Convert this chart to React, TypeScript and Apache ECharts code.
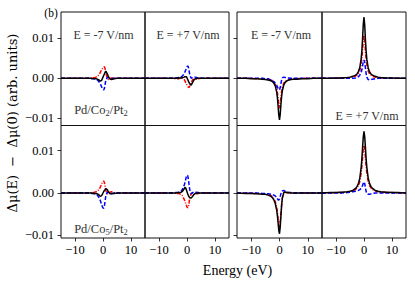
import React, { useEffect, useRef } from "react";
import * as echarts from "echarts";

// Energy grid (eV)
const energy = [-15, -12, -10, -8, -6, -5, -4, -3, -2.5, -2, -1.5, -1, -0.75, -0.5, -0.25, 0, 0.25, 0.5, 0.75, 1, 1.5, 2, 2.5, 3, 4, 5, 6, 8, 10, 12, 15];

// Row 1: Pd/Co2/Pt2 — column 1 (E = -7 V/nm)
const co2ARed = [0, 0, 0, 0, 0, 0, 0.0001, 0.0002, 0.0003, 0.0005, 0.0009, 0.0014, 0.0018, 0.0022, 0.0024, 0.0026, 0.0028, 0.0029, 0.0024, 0.0014, 0.0001, -0.0003, -0.0001, 0.0001, 0.0001, 0, 0, 0, 0, 0, 0];
const co2ABlue = [0, 0, 0, 0, 0, 0, -0.0001, -0.0001, -0.0002, -0.0004, -0.0008, -0.0013, -0.0017, -0.0021, -0.0025, -0.0028, -0.0029, -0.0025, -0.0015, -0.0005, 0.0002, 0.0003, 0.0001, -0.0001, 0, 0, 0, 0, 0, 0, 0];
const co2ABlack = [0, 0, 0, 0, 0, 0, 0, -0.0001, -0.0001, -0.0002, -0.0004, -0.0007, -0.0007, -0.0005, -0.0001, 0.0003, 0.0007, 0.0011, 0.0015, 0.0018, 0.0012, 0.0003, -0.0002, -0.0003, -0.0001, 0, 0, 0, 0, 0, 0];
// column 2 (E = +7 V/nm)
const co2BRed = [0, 0, 0, 0, 0, 0, -0.0001, -0.0001, 0.0001, 0.0002, 0.0001, -0.0003, -0.0006, -0.001, -0.0014, -0.0017, -0.002, -0.0022, -0.0023, -0.0019, -0.001, -0.0004, -0.0002, -0.0002, -0.0001, 0, 0, 0, 0, 0, 0];
const co2BBlue = [0, 0, 0, 0, 0, 0, 0.0001, 0.0002, 0.0002, 0.0004, 0.0007, 0.0012, 0.0016, 0.002, 0.0025, 0.0029, 0.0031, 0.0028, 0.0019, 0.0009, 0, 0.0002, 0.0004, 0.0003, 0.0001, 0, 0, 0, 0, 0, 0];
const co2BBlack = [0, 0, 0, 0, 0, 0, 0, 0.0001, 0.0001, 0.0001, 0.0002, 0.0003, 0.0004, 0.0004, 0.0004, 0.0001, -0.0003, -0.0007, -0.0011, -0.0014, -0.0017, -0.001, -0.0004, -0.0001, 0, 0, 0, 0, 0, 0, 0];
// column 3 (E = -7 V/nm)
const co2CRed = [0, 0, 0, -0.0001, -0.0001, -0.0002, -0.0003, -0.0004, -0.0006, -0.0009, -0.0014, -0.0025, -0.0035, -0.005, -0.0066, -0.0075, -0.0064, -0.0047, -0.0032, -0.0022, -0.0012, -0.0007, -0.0005, -0.0003, -0.0002, -0.0001, -0.0001, 0, 0, 0, 0];
const co2CBlue = [0, 0, 0, 0, 0, -0.0001, -0.0001, -0.0004, -0.0006, -0.0008, -0.0012, -0.0017, -0.0021, -0.0025, -0.0028, -0.0029, -0.0023, -0.0013, -0.0004, 0.0001, 0.0003, 0.0002, 0.0001, 0.0001, 0, 0, 0, 0, 0, 0, 0];
const co2CBlack = [0, 0, -0.0001, -0.0001, -0.0002, -0.0003, -0.0004, -0.0006, -0.0008, -0.0012, -0.0019, -0.0034, -0.0048, -0.0069, -0.0092, -0.0104, -0.009, -0.0066, -0.0045, -0.0031, -0.0017, -0.001, -0.0007, -0.0005, -0.0003, -0.0002, -0.0002, -0.0001, -0.0001, 0, 0];
// column 4 (E = +7 V/nm)
const co2DRed = [0, 0, 0, 0.0001, 0.0001, 0.0002, 0.0003, 0.0006, 0.0008, 0.0012, 0.0019, 0.0036, 0.005, 0.0071, 0.0096, 0.0108, 0.0094, 0.0069, 0.0048, 0.0034, 0.0018, 0.0011, 0.0008, 0.0005, 0.0003, 0.0002, 0.0001, 0.0001, 0, 0, 0];
const co2DBlue = [0, 0, 0, 0, 0, 0, 0, 0.0001, 0.0002, 0.0004, 0.0008, 0.0015, 0.0022, 0.0032, 0.0042, 0.0046, 0.004, 0.0026, 0.0012, 0.0003, -0.0003, -0.0004, -0.0003, -0.0002, -0.0001, 0, 0, 0, 0, 0, 0];
const co2DBlack = [0, 0, 0.0001, 0.0001, 0.0002, 0.0003, 0.0005, 0.0008, 0.0011, 0.0017, 0.0027, 0.005, 0.0071, 0.0101, 0.0136, 0.0153, 0.0134, 0.0098, 0.0069, 0.0048, 0.0026, 0.0016, 0.0011, 0.0008, 0.0005, 0.0003, 0.0002, 0.0001, 0.0001, 0, 0];

// Row 2: Pd/Co5/Pt2
const co5ARed = [0, 0, 0, 0, 0, 0, 0.0001, 0.0002, 0.0003, 0.0004, 0.0008, 0.0013, 0.0017, 0.0021, 0.0025, 0.0027, 0.0028, 0.0025, 0.0016, 0.0006, -0.0002, -0.0001, 0.0002, 0.0003, 0.0001, 0, 0, 0, 0, 0, 0];
const co5ABlue = [0, 0, 0, 0, 0, 0, -0.0001, -0.0002, -0.0003, -0.0005, -0.001, -0.0017, -0.0022, -0.0027, -0.0032, -0.0035, -0.0036, -0.0031, -0.0019, -0.0007, 0.0002, 0.0002, 0, -0.0001, 0, 0, 0, 0, 0, 0, 0];
const co5ABlack = [0, 0, 0, 0, 0, 0, 0, -0.0001, -0.0001, -0.0002, -0.0004, -0.0008, -0.0008, -0.0006, -0.0003, 0, 0.0003, 0.0006, 0.0008, 0.001, 0.0008, 0.0002, -0.0002, -0.0002, -0.0001, 0, 0, 0, 0, 0, 0];
const co5BRed = [0, 0, 0, 0, 0, 0, -0.0001, -0.0001, -0.0002, -0.0004, -0.0008, -0.0015, -0.0019, -0.0024, -0.0029, -0.0033, -0.0035, -0.0032, -0.0022, -0.0011, -0.0001, 0, -0.0002, -0.0003, -0.0001, 0, 0, 0, 0, 0, 0];
const co5BBlue = [0, 0, 0, 0, 0, 0, 0.0001, 0.0002, 0.0003, 0.0005, 0.001, 0.0018, 0.0024, 0.0031, 0.0038, 0.0042, 0.0041, 0.0032, 0.0019, 0.0007, -0.0002, 0.0001, 0.0003, 0.0002, 0.0001, 0, 0, 0, 0, 0, 0];
const co5BBlack = [0, 0, 0, 0, 0, 0, 0, 0.0001, 0.0001, 0.0002, 0.0005, 0.001, 0.0013, 0.0012, 0.0008, 0.0003, -0.0002, -0.0006, -0.0009, -0.0011, -0.0012, -0.0008, -0.0003, -0.0001, 0, 0, 0, 0, 0, 0, 0];
const co5CRed = [0, 0, -0.0001, -0.0001, -0.0002, -0.0003, -0.0004, -0.0006, -0.0009, -0.0013, -0.002, -0.0033, -0.0045, -0.006, -0.0075, -0.0081, -0.0068, -0.0047, -0.0026, -0.0011, -0.0001, 0.0001, 0.0001, 0, 0, 0, 0, 0, 0, 0, 0];
const co5CBlue = [0, 0, 0, 0, -0.0001, -0.0001, -0.0002, -0.0003, -0.0004, -0.0005, -0.0007, -0.001, -0.0013, -0.0016, -0.0017, -0.0014, -0.0008, -0.0002, 0.0003, 0.0005, 0.0006, 0.0004, 0.0003, 0.0002, 0.0001, 0, 0, 0, 0, 0, 0];
const co5CBlack = [0, -0.0001, -0.0001, -0.0002, -0.0003, -0.0003, -0.0005, -0.0008, -0.0011, -0.0016, -0.0025, -0.004, -0.0053, -0.007, -0.0088, -0.0096, -0.008, -0.0055, -0.003, -0.0012, 0.0001, 0.0002, 0.0001, 0.0001, 0, 0, 0, 0, 0, 0, 0];
const co5DRed = [0, 0, 0.0001, 0.0001, 0.0002, 0.0003, 0.0005, 0.0008, 0.0012, 0.0017, 0.0027, 0.0047, 0.0063, 0.0083, 0.0103, 0.0112, 0.0103, 0.0083, 0.0063, 0.0047, 0.0027, 0.0017, 0.0012, 0.0008, 0.0005, 0.0003, 0.0002, 0.0001, 0.0001, 0, 0];
const co5DBlue = [0, 0, 0, 0, 0.0001, 0.0002, 0.0003, 0.0004, 0.0005, 0.0006, 0.0008, 0.0011, 0.0014, 0.0018, 0.0023, 0.0026, 0.0022, 0.0013, 0.0004, -0.0001, -0.0003, -0.0003, -0.0002, -0.0001, 0, 0, 0, 0, 0, 0, 0];
const co5DBlack = [0, 0.0001, 0.0001, 0.0002, 0.0003, 0.0004, 0.0006, 0.0011, 0.0015, 0.0022, 0.0035, 0.0061, 0.0081, 0.0108, 0.0133, 0.0145, 0.0133, 0.0108, 0.0081, 0.0061, 0.0035, 0.0022, 0.0015, 0.0011, 0.0006, 0.0004, 0.0003, 0.0002, 0.0001, 0.0001, 0];

const panels = [
  [co2ARed, co2ABlue, co2ABlack],
  [co2BRed, co2BBlue, co2BBlack],
  [co2CRed, co2CBlue, co2CBlack],
  [co2DRed, co2DBlue, co2DBlack],
  [co5ARed, co5ABlue, co5ABlack],
  [co5BRed, co5BBlue, co5BBlack],
  [co5CRed, co5CBlue, co5CBlack],
  [co5DRed, co5DBlue, co5DBlack],
];

const yTicks = [-0.01, 0, 0.01];
const xTicks = [-10, 0, 10];
const rowYRange = [
  [-0.0118, 0.0166],
  [-0.0106, 0.0159],
];

const FONT = "'Liberation Serif', 'DejaVu Serif', serif";
const WIDE = "'DejaVu Serif', serif";

const colLeft = [61, 145, 237, 322];
const colWidth = [84, 84, 85, 84];
const rowTop = [12, 125.5];
const rowHeight = [113.5, 112.5];

const fmtY = (v: number) => (v < 0 ? "\u2212" : "") + Math.abs(v).toFixed(2);
const fmtX = (v: number) => (v < 0 ? "\u2212" : "") + Math.abs(v).toFixed(0);

export default function App() {
  const ref = useRef<HTMLDivElement>(null);
  useEffect(() => {
    if (!ref.current) return;
    const chart = echarts.init(ref.current, null, { renderer: "svg" });
    const grids: any[] = [];
    const xAxes: any[] = [];
    const yAxes: any[] = [];
    const series: any[] = [];
    const styles = [
      { color: "#ff0000", type: [4, 1.5, 1, 1.5] },
      { color: "#0000ff", type: [4, 2] },
      { color: "#000000", type: "solid" },
    ];
    for (let p = 0; p < 8; p++) {
      const row = Math.floor(p / 4);
      const col = p % 4;
      grids.push({
        left: colLeft[col],
        top: rowTop[row],
        width: colWidth[col],
        height: rowHeight[row],
        show: true,
        borderColor: "#111",
        borderWidth: 1,
        backgroundColor: "transparent",
      });
      const bottom = row === 1;
      xAxes.push({
        gridIndex: p,
        type: "value",
        position: "bottom",
        min: -15,
        max: 15,
        splitLine: { show: false },
        axisLine: { show: false, onZero: false },
        axisTick: { show: bottom, customValues: xTicks, length: 3.5, lineStyle: { color: "#000", width: 0.8 } },
        axisLabel: { show: bottom, customValues: xTicks, formatter: fmtX, fontFamily: FONT, fontSize: 12.5, color: "#000", margin: 5 },
      });
      const ticked = col === 0 || col === 2;
      yAxes.push({
        gridIndex: p,
        type: "value",
        position: "left",
        min: rowYRange[row][0],
        max: rowYRange[row][1],
        splitLine: { show: false },
        axisLine: { show: false, onZero: false },
        axisTick: { show: ticked, customValues: yTicks, length: 3.5, lineStyle: { color: "#000", width: 0.8 } },
        axisLabel: { show: col === 0, customValues: yTicks, formatter: fmtY, fontFamily: FONT, fontSize: 12.5, color: "#000", margin: 7 },
      });
      panels[p].forEach((vals, k) => {
        series.push({
          type: "line",
          xAxisIndex: p,
          yAxisIndex: p,
          data: energy.map((e, i) => [e, vals[i]]),
          showSymbol: false,
          symbol: "none",
          lineStyle: { color: styles[k].color, width: 1.5, type: styles[k].type },
          z: 2 + k,
          silent: true,
        });
      });
    }
    const txt = (x: number, y: number, text: string, size: number, extra: any = {}) => ({
      type: "text",
      x,
      y,
      style: { text, fontFamily: FONT, fontSize: size, fill: "#333", align: "center", verticalAlign: "middle", ...extra },
      z: 10,
    });
    const subRich = { s: { fontFamily: FONT, fontSize: 8.5, fill: "#333", padding: [6, 0, 0, 0] } };
    chart.setOption({
      animation: false,
      grid: grids,
      xAxis: xAxes,
      yAxis: yAxes,
      series,
      graphic: [
        txt(51, 13, "(b)", 11.5, { fill: "#000" }),
        txt(103.5, 35, "E = -7 V/nm", 12),
        txt(188, 35, "E = +7 V/nm", 12),
        txt(281, 35, "E = -7 V/nm", 12),
        txt(367, 116, "E = +7 V/nm", 12),
        txt(101, 110, "Pd/Co{s|2}/Pt{s|2}", 12.5, { rich: subRich }),
        txt(101, 229, "Pd/Co{s|5}/Pt{s|2}", 12.5, { rich: subRich }),
        txt(237.5, 270, "Energy (eV)", 14, { fill: "#000" }),
        {
          type: "text",
          x: 12,
          y: 123,
          rotation: Math.PI / 2,
          style: { text: "\u0394\u03bc(E)  \u2212  \u0394\u03bc(0) (arb. units)", fontFamily: WIDE, fontSize: 13, fill: "#000", align: "center", verticalAlign: "middle" },
          z: 10,
        },
      ],
    });
    return () => chart.dispose();
  }, []);
  return <div ref={ref} style={{ width: 415, height: 284, position: "absolute", left: 0, top: 0 }} />;
}
